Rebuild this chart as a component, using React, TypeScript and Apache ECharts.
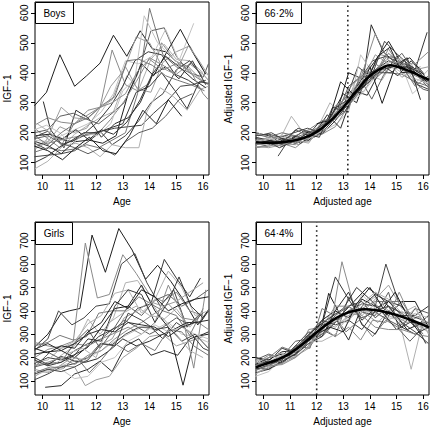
import React, { useEffect, useRef } from 'react';
import * as echarts from 'echarts';

// ---------- axes / labels ----------
const xTicks = [10, 11, 12, 13, 14, 15, 16];
const boysYTicks = [100, 200, 300, 400, 500, 600];
const girlsYTicks = [100, 200, 300, 400, 500, 600, 700];
const xRange = [9.72, 16.22];
const boysYRange = [59, 636];
const girlsYRange = [40, 780];
const panelTags = ['Boys', '66·2%', 'Girls', '64·4%'];
const xNames = ['Age', 'Adjusted age', 'Age', 'Adjusted age'];
const yNames = ['IGF−1', 'Adjusted IGF−1', 'IGF−1', 'Adjusted IGF−1'];
const boysTakeoffAge = 13.17;
const girlsTakeoffAge = 12.0;

// ---------- data: each subject as [age, value, age, value, ...] ----------
const boysRaw: number[][] = [
  [9.7, 290, 10.15, 335, 10.65, 460, 11.2, 355, 11.65, 390, 12.15, 432, 12.65, 525, 13.15, 455, 13.65, 540, 14.1, 480, 14.6, 470, 15.1, 430, 15.6, 395],
  [9.7, 215, 10.2, 180, 10.65, 150, 11.15, 225, 11.7, 275, 12.15, 285, 12.6, 476, 13.1, 360, 13.55, 340, 14.0, 365, 14.45, 500, 14.95, 440, 15.45, 420, 15.95, 375, 16.2, 360],
  [9.7, 120, 10.2, 125, 10.7, 130, 11.2, 140, 11.7, 170, 12.2, 205, 12.7, 215, 13.2, 220, 13.7, 225, 14.15, 265, 14.65, 305, 15.15, 355, 15.6, 360, 16.1, 375],
  [9.72, 80, 10.2, 105, 10.75, 155, 11.2, 195, 11.7, 225, 12.15, 250, 12.65, 270, 13.15, 390, 13.6, 345, 14.05, 445, 14.55, 495, 15.0, 445, 15.5, 440, 16.0, 400],
  [10.03, 304, 10.3, 210, 10.8, 150, 11.25, 275, 11.7, 250, 12.2, 185, 12.7, 230, 13.2, 250, 13.65, 300, 14.1, 390, 14.6, 420, 15.1, 380, 15.6, 440, 16.1, 360],
  [9.7, 150, 10.15, 175, 10.7, 285, 11.15, 250, 11.65, 245, 12.1, 280, 12.6, 310, 13.1, 420, 13.55, 345, 14.05, 335, 14.5, 435, 15.0, 470, 15.5, 490, 16.0, 410],
  [9.7, 200, 10.2, 210, 10.65, 255, 11.15, 265, 11.65, 245, 12.1, 230, 12.6, 265, 13.05, 300, 13.55, 395, 14.05, 540, 14.55, 550, 15.0, 455, 15.5, 400, 16.0, 385, 16.2, 430],
  [9.7, 175, 10.2, 170, 10.7, 190, 11.2, 210, 11.7, 230, 12.2, 270, 12.65, 330, 13.1, 440, 13.6, 430, 14.1, 455, 14.6, 545, 15.1, 440, 15.65, 565],
  [9.7, 165, 10.15, 145, 10.6, 180, 11.1, 170, 11.6, 200, 12.05, 235, 12.55, 290, 13.0, 355, 13.45, 440, 13.95, 470, 14.45, 460, 14.95, 395, 15.45, 375, 15.95, 345],
  [9.7, 135, 10.2, 150, 10.7, 140, 11.15, 145, 11.65, 160, 12.1, 150, 12.6, 175, 13.1, 200, 13.55, 330, 14.0, 615, 14.5, 460, 15.0, 420, 15.5, 400, 16.0, 370],
  [9.75, 190, 10.25, 195, 10.75, 180, 11.25, 210, 11.75, 175, 12.25, 165, 12.75, 190, 13.2, 330, 13.7, 430, 14.15, 390, 14.65, 470, 15.15, 545, 15.6, 470, 16.1, 395],
  [9.7, 160, 10.2, 165, 10.65, 175, 11.15, 185, 11.6, 190, 12.1, 200, 12.55, 245, 13.05, 305, 13.5, 370, 14.0, 450, 14.5, 425, 15.0, 395, 15.5, 430, 16.0, 395, 16.2, 375],
  [9.7, 185, 10.2, 205, 10.7, 160, 11.2, 175, 11.65, 195, 12.15, 205, 12.6, 160, 13.1, 190, 13.6, 240, 14.05, 300, 14.5, 330, 15.0, 410, 15.5, 440, 15.95, 390],
  [9.8, 230, 10.3, 200, 10.75, 155, 11.25, 165, 11.7, 150, 12.15, 120, 12.6, 160, 13.1, 150, 13.6, 150, 13.9, 270, 14.4, 350, 14.9, 320, 15.4, 275, 15.9, 345, 16.2, 355],
  [9.75, 170, 10.25, 155, 10.7, 130, 11.2, 170, 11.7, 175, 12.2, 210, 12.65, 195, 13.15, 235, 13.65, 310, 14.1, 395, 14.6, 455, 15.1, 420, 15.6, 380, 16.1, 350],
  [9.7, 145, 10.2, 170, 10.65, 220, 11.15, 200, 11.65, 215, 12.1, 275, 12.55, 355, 13.05, 410, 13.5, 520, 14.0, 500, 14.5, 415, 14.95, 395, 15.45, 490, 15.85, 440, 16.2, 390],
  [9.7, 180, 10.2, 190, 10.7, 165, 11.2, 150, 11.7, 130, 12.2, 150, 12.7, 125, 13.1, 170, 13.6, 200, 14.1, 215, 14.6, 255, 15.1, 310, 15.6, 330],
  [9.7, 210, 10.15, 225, 10.65, 200, 11.1, 160, 11.55, 200, 12.05, 190, 12.55, 230, 13.0, 340, 13.45, 380, 13.8, 590, 14.3, 500, 14.8, 455, 15.3, 415, 15.8, 385],
  [9.7, 100, 10.15, 120, 10.6, 150, 11.1, 175, 11.55, 200, 12.05, 200, 12.5, 215, 13.0, 230, 13.5, 335, 14.0, 355, 14.45, 400, 14.95, 340, 15.4, 280, 15.85, 370, 16.2, 365],
  [9.7, 190, 10.2, 160, 10.7, 200, 11.2, 230, 11.7, 250, 12.2, 290, 12.7, 320, 13.15, 440, 13.6, 445, 14.1, 425, 14.6, 390, 15.05, 375, 15.55, 360, 16.05, 340],
  [9.7, 155, 10.2, 140, 10.75, 110, 11.25, 150, 11.75, 185, 12.25, 140, 12.75, 130, 13.25, 190, 13.75, 275, 14.25, 230, 14.7, 310, 15.2, 255],
  [9.7, 225, 10.2, 250, 10.7, 235, 11.2, 230, 11.7, 260, 12.15, 285, 12.6, 300, 13.1, 330, 13.55, 405, 14.0, 445, 14.5, 410, 15.0, 430, 15.5, 410, 16.0, 330, 16.2, 310],
];

const boysAdjusted: number[][] = [
  [9.7, 180, 10.2, 175, 10.7, 160, 11.2, 190, 11.7, 175, 12.2, 220, 12.7, 250, 13.2, 400, 13.7, 380, 14.2, 440, 14.7, 505, 15.2, 430, 15.7, 400, 16.2, 360],
  [9.9, 160, 10.4, 170, 10.9, 160, 11.4, 180, 11.9, 200, 12.4, 240, 12.9, 270, 13.4, 330, 13.9, 390, 14.4, 460, 14.9, 450, 15.4, 400, 15.9, 420],
  [10.55, 122, 11.05, 190, 11.55, 180, 12.05, 230, 12.55, 250, 13.05, 300, 13.55, 420, 14.05, 385, 14.55, 505, 15.05, 460, 15.55, 420, 16.05, 395],
  [9.7, 165, 10.15, 155, 10.6, 175, 11.05, 255, 11.5, 200, 12.0, 210, 12.5, 300, 12.95, 260, 13.45, 370, 13.95, 395, 14.45, 375, 14.95, 450, 15.45, 440, 15.95, 380],
  [9.7, 200, 10.2, 190, 10.7, 175, 11.2, 165, 11.7, 205, 12.2, 195, 12.7, 240, 13.2, 300, 13.7, 350, 14.05, 560, 14.5, 470, 15.0, 430, 15.5, 450, 16.0, 400],
  [9.8, 175, 10.3, 185, 10.8, 190, 11.3, 160, 11.8, 185, 12.3, 230, 12.8, 265, 13.3, 320, 13.8, 340, 14.3, 420, 14.8, 455, 15.3, 430, 15.8, 395],
  [9.7, 150, 10.2, 160, 10.7, 180, 11.2, 165, 11.7, 190, 12.2, 210, 12.7, 280, 13.2, 330, 13.7, 370, 14.07, 312, 14.5, 390, 15.0, 455, 15.5, 380, 16.0, 345, 16.2, 340],
  [9.75, 170, 10.25, 155, 10.75, 200, 11.25, 170, 11.75, 195, 12.25, 205, 12.75, 230, 13.2, 270, 13.65, 460, 14.1, 400, 14.6, 430, 15.1, 445, 15.6, 330, 16.1, 370],
  [9.7, 185, 10.2, 175, 10.7, 170, 11.2, 180, 11.7, 175, 12.2, 200, 12.7, 250, 13.2, 310, 13.7, 380, 14.2, 410, 14.7, 440, 15.2, 420, 15.7, 410, 16.15, 535],
  [9.7, 160, 10.2, 165, 10.7, 155, 11.2, 185, 11.7, 200, 12.2, 225, 12.7, 265, 13.2, 290, 13.7, 345, 14.2, 430, 14.7, 400, 15.2, 395, 15.7, 370, 16.2, 355],
  [10.0, 165, 10.5, 185, 11.0, 175, 11.5, 205, 12.0, 190, 12.5, 250, 13.0, 330, 13.5, 300, 14.0, 420, 14.46, 298, 14.95, 420, 15.45, 420, 15.95, 395],
  [9.7, 175, 10.2, 170, 10.7, 165, 11.2, 150, 11.7, 185, 12.2, 195, 12.7, 220, 13.2, 290, 13.7, 345, 14.2, 395, 14.7, 480, 15.2, 410, 15.7, 390, 16.2, 370],
  [9.7, 190, 10.2, 195, 10.65, 185, 11.15, 200, 11.65, 215, 12.15, 200, 12.65, 260, 13.1, 285, 13.6, 375, 14.1, 440, 14.6, 455, 15.1, 435, 15.6, 420, 16.1, 380],
  [9.7, 205, 10.2, 180, 10.7, 170, 11.2, 175, 11.7, 165, 12.2, 230, 12.7, 245, 13.2, 320, 13.7, 390, 14.2, 400, 14.7, 410, 15.2, 440, 15.7, 365, 16.2, 410],
  [9.9, 175, 10.4, 160, 10.9, 185, 11.4, 165, 11.9, 195, 12.4, 260, 12.9, 215, 13.4, 340, 13.9, 325, 14.4, 410, 14.9, 420, 15.4, 450, 15.9, 310],
  [9.7, 155, 10.2, 150, 10.7, 160, 11.2, 170, 11.7, 170, 12.2, 210, 12.7, 290, 13.2, 320, 13.7, 370, 14.2, 460, 14.7, 430, 15.2, 385, 15.7, 410, 16.2, 420],
  [10.2, 195, 10.7, 160, 11.2, 210, 11.7, 190, 12.2, 225, 12.7, 250, 13.2, 355, 13.7, 390, 14.2, 380, 14.7, 420, 15.2, 465, 15.7, 400, 16.2, 350],
  [9.7, 170, 10.2, 180, 10.7, 185, 11.2, 175, 11.7, 180, 12.2, 205, 12.7, 270, 13.2, 295, 13.7, 330, 14.2, 385, 14.7, 430, 15.2, 400, 15.7, 380, 16.2, 365],
  [9.7, 165, 10.15, 170, 10.6, 150, 11.1, 170, 11.6, 195, 12.1, 185, 12.6, 285, 13.05, 270, 13.55, 340, 14.05, 375, 14.55, 420, 15.05, 390, 15.55, 440, 16.05, 390],
  [9.7, 195, 10.2, 185, 10.7, 200, 11.2, 190, 11.7, 210, 12.2, 240, 12.7, 245, 13.2, 280, 13.7, 410, 14.2, 395, 14.7, 465, 15.2, 425, 15.7, 355, 16.2, 390],
  [12.0, 230, 12.45, 240, 12.9, 370, 13.35, 330, 13.8, 355, 14.3, 455, 14.75, 485, 15.2, 400, 15.65, 405, 16.15, 370],
  [9.7, 150, 10.2, 155, 10.7, 165, 11.2, 160, 11.7, 195, 12.2, 210, 12.7, 260, 13.2, 345, 13.7, 395, 14.2, 530, 14.7, 440, 15.2, 430, 15.7, 430, 16.2, 470],
  [9.8, 190, 10.3, 200, 10.8, 175, 11.3, 215, 11.8, 200, 12.3, 220, 12.8, 290, 13.3, 315, 13.8, 365, 14.3, 400, 14.8, 400, 15.3, 440, 15.8, 360, 16.2, 345],
];

const boysMeanCurve: number[][] = [
  [9.72, 168], [10, 167], [10.5, 167], [11, 172], [11.5, 182], [12, 203], [12.5, 238], [13, 285],
  [13.5, 340], [14, 390], [14.5, 418], [14.75, 425], [15, 421], [15.5, 405], [16, 385], [16.22, 376],
];

const girlsRaw: number[][] = [
  [9.7, 245, 10.2, 300, 10.7, 390, 11.0, 400, 11.4, 410, 11.85, 724, 12.35, 565, 12.85, 752, 13.35, 660, 13.85, 535, 14.3, 595, 14.8, 525, 15.3, 440, 15.8, 340, 16.2, 405],
  [9.7, 200, 10.2, 235, 10.7, 250, 11.15, 270, 11.6, 690, 12.05, 455, 12.5, 470, 13.0, 640, 13.5, 560, 14.0, 470, 14.5, 440, 15.0, 480, 15.5, 400, 16.0, 380],
  [9.7, 230, 10.2, 280, 10.6, 400, 11.1, 340, 11.55, 370, 12.0, 420, 12.5, 430, 12.95, 600, 13.45, 645, 13.9, 520, 14.4, 420, 14.9, 490, 15.4, 330, 15.9, 390],
  [9.7, 185, 10.2, 165, 10.7, 210, 11.2, 250, 11.7, 365, 12.15, 300, 12.65, 370, 13.1, 520, 13.55, 530, 14.05, 440, 14.5, 360, 15.0, 410, 15.5, 330, 16.0, 395],
  [10.1, 73, 10.7, 80, 11.2, 130, 11.7, 150, 12.15, 185, 12.6, 140, 13.1, 250, 13.6, 280, 14.05, 210, 14.55, 230, 15.05, 210, 15.5, 280, 16.0, 300, 16.2, 310],
  [9.7, 120, 10.2, 150, 10.7, 165, 11.2, 160, 11.6, 80, 12.0, 105, 12.5, 120, 13.0, 200, 13.5, 240, 14.0, 290, 14.5, 300, 15.0, 250, 15.5, 270, 16.0, 290],
  [9.7, 160, 10.2, 175, 10.7, 180, 11.2, 230, 11.7, 260, 12.2, 280, 12.7, 330, 13.2, 420, 13.7, 380, 14.2, 445, 14.7, 470, 15.2, 420, 15.7, 450, 16.2, 490],
  [9.7, 140, 10.2, 145, 10.7, 165, 11.2, 185, 11.7, 200, 12.2, 230, 12.7, 270, 13.2, 300, 13.7, 330, 14.2, 320, 14.7, 350, 15.2, 300, 15.7, 290, 16.2, 265],
  [9.7, 175, 10.2, 200, 10.7, 190, 11.15, 210, 11.65, 240, 12.1, 290, 12.6, 320, 13.1, 350, 13.55, 410, 14.05, 430, 14.55, 620, 15.0, 540, 15.5, 460, 15.9, 540],
  [9.7, 250, 10.2, 265, 10.65, 295, 11.15, 275, 11.65, 290, 12.1, 390, 12.6, 400, 13.1, 400, 13.6, 460, 14.05, 430, 14.5, 400, 15.0, 380, 15.5, 295, 16.0, 410],
  [9.7, 215, 10.2, 225, 10.7, 230, 11.2, 200, 11.7, 250, 12.2, 330, 12.7, 410, 13.2, 420, 13.7, 510, 14.2, 400, 14.7, 330, 15.25, 82, 15.7, 290, 16.2, 300],
  [9.7, 265, 10.2, 250, 10.7, 240, 11.2, 260, 11.7, 250, 12.2, 280, 12.7, 305, 13.2, 330, 13.7, 300, 14.2, 350, 14.7, 510, 15.2, 390, 15.65, 155, 16.1, 490],
  [9.7, 105, 10.2, 130, 10.7, 160, 11.2, 175, 11.7, 200, 12.15, 260, 12.6, 255, 13.1, 300, 13.6, 330, 14.05, 330, 14.5, 280, 15.0, 350, 15.5, 310, 16.0, 240, 16.2, 230],
  [9.7, 180, 10.2, 190, 10.7, 240, 11.2, 270, 11.7, 345, 12.2, 380, 12.7, 475, 13.2, 490, 13.7, 390, 14.2, 450, 14.7, 570, 15.2, 500, 15.7, 380, 16.2, 400],
  [9.7, 200, 10.2, 170, 10.7, 205, 11.2, 185, 11.6, 180, 12.05, 195, 12.5, 230, 13.0, 280, 13.5, 250, 14.0, 270, 14.5, 300, 14.9, 320, 15.4, 350, 15.9, 350, 16.2, 400],
  [9.7, 150, 10.2, 135, 10.65, 165, 11.1, 200, 11.6, 190, 12.1, 250, 12.6, 280, 13.05, 370, 13.55, 400, 14.0, 440, 14.5, 420, 15.0, 440, 15.5, 480, 16.0, 520],
  [9.75, 165, 10.25, 220, 10.75, 190, 11.25, 270, 11.7, 320, 12.15, 240, 12.6, 310, 13.05, 360, 13.55, 330, 14.0, 300, 14.5, 330, 15.0, 370, 15.5, 340, 16.0, 390],
  [9.7, 130, 10.2, 140, 10.7, 150, 11.2, 110, 11.7, 120, 12.2, 180, 12.7, 200, 13.2, 270, 13.7, 300, 14.2, 340, 14.7, 310, 15.2, 330, 15.7, 300, 16.2, 280],
  [9.7, 190, 10.2, 165, 10.7, 180, 11.2, 210, 11.7, 280, 12.2, 270, 12.7, 420, 13.2, 490, 13.7, 470, 14.2, 350, 14.7, 440, 15.1, 545, 15.55, 420, 16.0, 370],
  [9.8, 140, 10.3, 160, 10.8, 155, 11.25, 205, 11.75, 135, 12.2, 190, 12.7, 260, 13.2, 225, 13.7, 260, 14.2, 230, 14.7, 320, 15.2, 310, 15.65, 250, 16.2, 210],
  [9.7, 240, 10.2, 220, 10.7, 250, 11.2, 240, 11.7, 310, 12.2, 350, 12.7, 440, 13.2, 410, 13.7, 490, 14.2, 460, 14.7, 400, 15.2, 430, 15.7, 450, 16.2, 460],
  [9.7, 165, 10.2, 180, 10.7, 200, 11.2, 170, 11.7, 210, 12.2, 230, 12.7, 280, 13.2, 320, 13.7, 350, 14.2, 390, 14.7, 430, 15.2, 370, 15.7, 360, 16.2, 320],
  [9.7, 130, 10.2, 150, 10.7, 140, 11.2, 160, 11.7, 190, 12.2, 260, 12.7, 250, 13.2, 390, 13.7, 360, 14.2, 320, 14.7, 330, 15.2, 270, 15.7, 300, 16.2, 240],
  [10.5, 175, 11.0, 220, 11.5, 240, 12.0, 200, 12.5, 350, 13.0, 390, 13.5, 420, 14.0, 380, 14.5, 370, 15.0, 300, 15.5, 230, 16.0, 200],
  [9.7, 235, 10.2, 260, 10.7, 230, 11.2, 260, 11.7, 300, 12.2, 320, 12.7, 310, 13.2, 350, 13.7, 340, 14.2, 330, 14.7, 290, 15.2, 330, 15.7, 350, 16.2, 360],
];

const girlsAdjusted: number[][] = [
  [9.7, 170, 10.2, 200, 10.7, 215, 11.2, 210, 11.7, 300, 12.2, 345, 12.45, 475, 12.9, 380, 13.4, 440, 13.9, 500, 14.4, 460, 14.9, 390, 15.4, 320, 15.9, 345, 16.2, 350],
  [9.7, 150, 10.2, 165, 10.7, 190, 11.2, 250, 11.7, 270, 12.2, 320, 12.6, 380, 12.95, 610, 13.4, 420, 13.9, 395, 14.4, 420, 14.9, 380, 15.4, 350, 15.9, 380],
  [9.7, 135, 10.2, 150, 10.7, 180, 11.2, 215, 11.7, 290, 12.2, 340, 12.7, 350, 13.2, 400, 13.7, 430, 14.2, 420, 14.6, 600, 15.1, 430, 15.5, 380, 16.0, 360],
  [9.7, 180, 10.2, 175, 10.7, 210, 11.2, 240, 11.7, 260, 12.2, 300, 12.7, 360, 13.2, 390, 13.7, 380, 14.2, 430, 14.7, 380, 15.1, 360, 15.55, 150, 16.0, 360, 16.2, 340],
  [9.7, 160, 10.2, 190, 10.7, 175, 11.2, 230, 11.7, 290, 12.2, 300, 12.7, 370, 13.2, 275, 13.7, 420, 14.2, 470, 14.7, 440, 15.2, 420, 15.7, 350, 16.1, 260],
  [9.8, 140, 10.3, 160, 10.8, 200, 11.3, 220, 11.8, 270, 12.3, 310, 12.8, 360, 13.3, 410, 13.8, 390, 14.3, 350, 14.8, 410, 15.3, 390, 15.8, 340, 16.2, 310],
  [9.7, 190, 10.2, 215, 10.7, 195, 11.2, 250, 11.7, 240, 12.2, 320, 12.7, 290, 13.2, 460, 13.7, 395, 14.2, 380, 14.7, 480, 15.1, 320, 15.5, 270, 16.0, 330],
  [9.7, 120, 10.2, 140, 10.7, 200, 11.2, 220, 11.7, 300, 12.2, 350, 12.7, 390, 13.2, 380, 13.7, 400, 14.2, 390, 14.7, 360, 15.2, 400, 15.7, 340, 16.2, 310],
  [9.7, 165, 10.2, 185, 10.7, 240, 11.2, 220, 11.7, 270, 12.2, 340, 12.7, 545, 13.2, 450, 13.7, 360, 14.2, 410, 14.7, 440, 15.2, 380, 15.7, 380, 16.2, 420],
  [9.75, 150, 10.25, 170, 10.75, 200, 11.25, 250, 11.75, 240, 12.2, 410, 12.65, 380, 13.1, 310, 13.6, 360, 14.1, 290, 14.6, 360, 15.05, 330, 15.5, 370, 16.0, 300],
  [9.7, 200, 10.2, 190, 10.7, 225, 11.2, 230, 11.7, 270, 12.2, 360, 12.7, 400, 13.2, 370, 13.7, 450, 14.2, 420, 14.7, 380, 15.2, 440, 15.7, 440, 16.2, 330],
  [9.7, 175, 10.2, 210, 10.7, 195, 11.2, 200, 11.7, 320, 12.2, 330, 12.7, 290, 13.2, 330, 13.65, 275, 14.1, 360, 14.6, 350, 15.1, 480, 15.55, 370, 16.0, 330],
  [9.7, 145, 10.2, 170, 10.7, 190, 11.2, 250, 11.7, 310, 12.2, 290, 12.7, 350, 13.2, 420, 13.7, 440, 14.2, 370, 14.7, 420, 15.2, 390, 15.7, 330, 16.2, 380],
  [9.7, 185, 10.2, 200, 10.7, 220, 11.2, 200, 11.7, 250, 12.2, 310, 12.7, 410, 13.2, 360, 13.7, 420, 14.2, 460, 14.7, 400, 15.2, 355, 15.7, 410, 16.2, 320],
  [9.7, 155, 10.2, 150, 10.7, 185, 11.2, 215, 11.7, 260, 12.2, 290, 12.7, 400, 13.2, 480, 13.7, 340, 14.2, 300, 14.7, 400, 15.2, 330, 15.7, 300, 16.2, 330],
  [9.7, 130, 10.2, 160, 10.7, 175, 11.2, 205, 11.7, 240, 12.2, 350, 12.7, 330, 13.2, 380, 13.7, 390, 14.2, 450, 14.7, 510, 15.2, 410, 15.7, 380, 16.2, 350],
  [9.7, 170, 10.2, 180, 10.7, 205, 11.2, 270, 11.7, 280, 12.2, 320, 12.7, 380, 13.2, 420, 13.7, 370, 14.2, 395, 14.7, 360, 15.2, 330, 15.7, 410, 16.2, 390],
  [9.7, 195, 10.2, 185, 10.7, 210, 11.2, 230, 11.7, 295, 12.2, 330, 12.7, 360, 13.2, 350, 13.7, 470, 14.2, 410, 14.7, 370, 15.2, 360, 15.7, 390, 16.2, 370],
  [10.0, 170, 10.5, 195, 11.0, 210, 11.5, 270, 12.0, 330, 12.5, 370, 13.0, 410, 13.5, 500, 14.0, 450, 14.5, 390, 15.0, 320, 15.5, 350, 16.0, 350],
  [9.7, 160, 10.2, 200, 10.7, 245, 11.2, 225, 11.7, 260, 12.2, 300, 12.7, 350, 13.2, 400, 13.7, 410, 14.2, 440, 14.7, 440, 15.2, 440, 15.7, 350, 16.2, 350],
  [11.5, 250, 12.0, 300, 12.5, 330, 13.0, 310, 13.5, 430, 14.0, 500, 14.5, 410, 14.95, 480, 15.4, 380, 15.9, 300],
  [9.7, 145, 10.2, 165, 10.7, 170, 11.2, 200, 11.7, 250, 12.2, 330, 12.7, 420, 13.2, 420, 13.7, 380, 14.2, 330, 14.7, 320, 15.2, 320, 15.7, 300, 16.2, 290],
  [9.7, 200, 10.2, 180, 10.7, 200, 11.2, 240, 11.7, 300, 12.2, 360, 12.7, 340, 13.2, 360, 13.7, 320, 14.2, 400, 14.7, 420, 15.2, 350, 15.7, 310, 16.2, 260],
  [9.7, 165, 10.2, 170, 10.7, 210, 11.2, 225, 11.7, 270, 12.2, 270, 12.7, 300, 13.2, 380, 13.7, 430, 14.2, 480, 14.7, 450, 15.2, 390, 15.7, 420, 16.2, 300],
];

const girlsMeanCurve: number[][] = [
  [9.72, 159], [10, 170], [10.5, 190], [11, 218], [11.5, 260], [12, 308], [12.5, 352], [13, 385],
  [13.5, 402], [13.8, 407], [14, 406], [14.5, 397], [15, 382], [15.5, 362], [16, 340], [16.22, 328],
];

// ---------- styling ----------
const FONT = 'Liberation Sans, Arial, Helvetica, sans-serif';
const shades = ['#1e1e1e', '#8a8a8a', '#444444', '#b0b0b0', '#2c2c2c', '#9c9c9c', '#5e5e5e', '#c2c2c2', '#363636', '#767676'];
const grids = [
  { left: 35, top: 2, width: 174, height: 173 },
  { left: 256, top: 2, width: 173, height: 173 },
  { left: 35, top: 222, width: 174, height: 173 },
  { left: 256, top: 222, width: 173, height: 173 },
];
const tagBoxes = [
  { x: 35, y: 2, w: 38, h: 21 },
  { x: 256, y: 2, w: 45, h: 21 },
  { x: 35, y: 222, w: 37, h: 22 },
  { x: 256, y: 222, w: 45, h: 22 },
];

function toPairs(flat: number[]): number[][] {
  const out: number[][] = [];
  for (let i = 0; i + 1 < flat.length; i += 2) out.push([flat[i], flat[i + 1]]);
  return out;
}

function subjectSeries(subjects: number[][], idx: number) {
  return subjects.map((flat, i) => ({
    type: 'line',
    xAxisIndex: idx,
    yAxisIndex: idx,
    data: toPairs(flat),
    symbol: 'none',
    showSymbol: false,
    silent: true,
    clip: true,
    z: 2,
    lineStyle: { width: 1, color: shades[i % shades.length] },
    itemStyle: { color: shades[i % shades.length] },
  }));
}

function meanSeries(curve: number[][], idx: number) {
  return {
    type: 'line', xAxisIndex: idx, yAxisIndex: idx, data: curve, smooth: 0.5,
    symbol: 'none', showSymbol: false, silent: true, clip: true, z: 5,
    lineStyle: { width: 2.6, color: '#000' },
  };
}

function vlineSeries(age: number, yr: number[], idx: number) {
  return {
    type: 'line', xAxisIndex: idx, yAxisIndex: idx, data: [[age, yr[0]], [age, yr[1]]],
    symbol: 'none', showSymbol: false, silent: true, clip: true, z: 4,
    lineStyle: { width: 1.6, color: '#222', type: [1.6, 3.2] },
  };
}

export default function App() {
  const ref = useRef<HTMLDivElement>(null);
  useEffect(() => {
    if (!ref.current) return;
    const chart = echarts.init(ref.current, undefined, { renderer: 'svg' });
    const yRanges = [boysYRange, boysYRange, girlsYRange, girlsYRange];
    const yTicks = [boysYTicks, boysYTicks, girlsYTicks, girlsYTicks];
    const textStyle = { fontFamily: FONT, fontSize: 10, color: '#000' };
    const option: any = {
      animation: false,
      backgroundColor: '#fff',
      grid: grids.map((g) => ({ ...g, show: true, borderColor: '#000', borderWidth: 1, backgroundColor: 'transparent', containLabel: false, outerBoundsMode: 'none' })),
      xAxis: grids.map((_, i) => ({
        type: 'value', gridIndex: i, min: xRange[0], max: xRange[1],
        name: xNames[i], nameLocation: 'middle', nameGap: 21,
        nameTextStyle: { ...textStyle },
        axisLine: { show: false, onZero: false },
        axisTick: { show: true, length: 4, inside: false, customValues: xTicks, lineStyle: { color: '#000', width: 1 } },
        axisLabel: { ...textStyle, margin: 6, customValues: xTicks, showMinLabel: true, showMaxLabel: true },
        splitLine: { show: false },
      })),
      yAxis: grids.map((_, i) => ({
        type: 'value', gridIndex: i, min: yRanges[i][0], max: yRanges[i][1],
        name: yNames[i], nameLocation: 'middle', nameGap: 23, nameRotate: 90,
        nameTextStyle: { ...textStyle },
        axisLine: { show: false, onZero: false },
        axisTick: { show: true, length: 4, inside: false, customValues: yTicks[i], lineStyle: { color: '#000', width: 1 } },
        axisLabel: { ...textStyle, margin: 6, rotate: 90, customValues: yTicks[i] },
        splitLine: { show: false },
      })),
      graphic: tagBoxes.flatMap((b, i) => [
        { type: 'rect', z: 100, shape: { x: b.x + 0.5, y: b.y + 0.5, width: b.w, height: b.h }, style: { fill: '#fff', stroke: '#000', lineWidth: 1 } },
        { type: 'text', z: 101, x: b.x + b.w / 2 + 0.5, y: b.y + b.h / 2 + 0.5, style: { text: panelTags[i], fill: '#000', font: `10px ${FONT}`, align: 'center', verticalAlign: 'middle' } },
      ]),
      series: [
        ...subjectSeries(boysRaw, 0),
        ...subjectSeries(boysAdjusted, 1),
        meanSeries(boysMeanCurve, 1),
        vlineSeries(boysTakeoffAge, boysYRange, 1),
        ...subjectSeries(girlsRaw, 2),
        ...subjectSeries(girlsAdjusted, 3),
        meanSeries(girlsMeanCurve, 3),
        vlineSeries(girlsTakeoffAge, girlsYRange, 3),
      ],
    };
    chart.setOption(option);
    return () => chart.dispose();
  }, []);
  return <div ref={ref} style={{ position: 'absolute', left: 0, top: 0, width: 431, height: 429, background: '#fff' }} />;
}
